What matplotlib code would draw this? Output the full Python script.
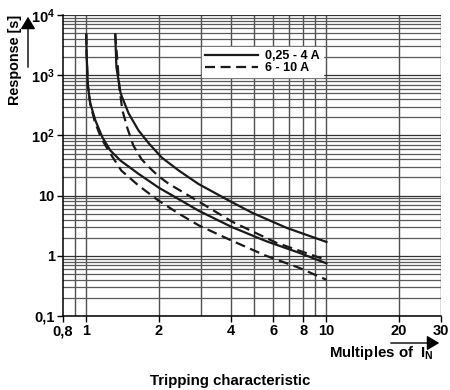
import numpy as np
import matplotlib
matplotlib.use("Agg")
import matplotlib.pyplot as plt
from matplotlib.patches import FancyArrowPatch
from matplotlib.ticker import FixedLocator, NullFormatter

plt.rcParams["font.family"] = ["Liberation Sans", "DejaVu Sans"]
plt.rcParams["font.weight"] = "bold"
plt.rcParams["mathtext.fontset"] = "custom"
plt.rcParams["mathtext.bf"] = "Liberation Sans:bold"
plt.rcParams["mathtext.rm"] = "Liberation Sans:bold"

# curves (multiples of I_N -> response time in s)
# 0,25 - 4 A (solid): lower and upper boundary
sa_x = [1.0, 1.003, 1.015, 1.039, 1.091, 1.167, 1.26, 1.39, 1.65, 2.0, 2.36, 2.94, 4.04, 5.61, 7.71, 10]
sa_y = [4800, 2330, 680, 341, 178, 93, 56, 38, 23, 13.6, 9.3, 5.6, 3.0, 1.75, 1.12, 0.75]
sb_x = [1.32, 1.335, 1.39, 1.50, 1.65, 1.82, 2.06, 2.43, 2.94, 3.93, 4.9, 6.8, 10]
sb_y = [4800, 1360, 500, 233, 121, 74, 43, 26, 15.5, 8.25, 5.2, 2.93, 1.7]
# 6 - 10 A (dashed): lower and upper boundary
da_x = [1.0, 1.003, 1.015, 1.039, 1.085, 1.15, 1.236, 1.40, 1.65, 2.0, 2.43, 2.94, 4.04, 5.61, 7.71, 10]
da_y = [4800, 2330, 680, 330, 170, 93, 56, 26, 14.7, 8.25, 5.0, 3.2, 1.78, 1.0, 0.63, 0.40]
db_x = [1.32, 1.35, 1.374, 1.414, 1.484, 1.57, 1.70, 1.87, 2.0, 2.2, 2.67, 3.03, 4.04, 6.18, 10]
db_y = [4800, 1580, 607, 261, 131, 68, 40, 27, 21, 15.8, 10, 7.4, 3.7, 1.65, 0.85]

x_ticks = [0.8, 1, 2, 4, 6, 8, 10, 20, 30]
x_labels = ["0,8", "1", "2", "4", "6", "8", "10", "20", "30"]
x_grid = [0.9, 1, 2, 3, 4, 5, 6, 7, 8, 9, 10, 20, 30]
y_ticks = [0.1, 1, 10, 100, 1000, 10000]
y_labels = ["0,1", "1", "10", r"$\mathbf{10^2}$", r"$\mathbf{10^3}$", r"$\mathbf{10^4}$"]

fig = plt.figure(figsize=(4.5, 3.9), dpi=100)
ax = fig.add_axes([63 / 450, 1 - 316 / 390, 378 / 450, 301 / 390])
ax.set_xscale("log")
ax.set_yscale("log")
ax.set_xlim(0.8, 30)
ax.set_ylim(0.1, 1e4)

# grid (drawn by hand: every minor value in each decade)
for v in x_grid:
    ax.axvline(v, color="#505050", lw=1.0, zorder=1)
for dec in [0.1, 1, 10, 100, 1000]:
    for k in range(1, 10):
        ax.axhline(dec * k, color="#333333" if k == 1 else "#5a5a5a", lw=0.9, zorder=1)
ax.axhline(1e4, color="#333333", lw=0.9, zorder=1)

dash = (0, (4.5, 2.5))
l1, = ax.plot(sa_x, sa_y, color="#1a1a1a", lw=1.6, zorder=3, label="0,25 - 4 A")
ax.plot(sb_x, sb_y, color="#1a1a1a", lw=1.6, zorder=3)
l2, = ax.plot(da_x, da_y, color="#1a1a1a", lw=1.6, ls=dash, zorder=3, label="6 - 10 A")
ax.plot(db_x, db_y, color="#1a1a1a", lw=1.6, ls=dash, zorder=3)

ax.xaxis.set_major_locator(FixedLocator(x_ticks))
ax.set_xticklabels(x_labels)
ax.xaxis.set_minor_locator(FixedLocator([]))
ax.xaxis.set_minor_formatter(NullFormatter())
ax.yaxis.set_major_locator(FixedLocator(y_ticks))
ax.set_yticklabels(y_labels)
ax.yaxis.set_minor_locator(FixedLocator([]))
ax.yaxis.set_minor_formatter(NullFormatter())
ax.tick_params(axis="both", length=4, width=1, color="black", labelsize=10.5, pad=2)

for s in ["top", "right"]:
    ax.spines[s].set_visible(False)
for s in ["left", "bottom"]:
    ax.spines[s].set_linewidth(1.1)
    ax.spines[s].set_color("black")

leg = ax.legend(handles=[l1, l2], loc="upper left", bbox_to_anchor=(0.368, 0.893),
                frameon=True, fancybox=False, framealpha=1, facecolor="white",
                edgecolor="white", fontsize=9, handlelength=4.2, handletextpad=0.6,
                labelspacing=0.0, borderpad=0.25, borderaxespad=0)
for t in leg.get_texts():
    t.set_fontweight("bold")

# axis captions with arrows
fig.text(15 / 450, 1 - 60 / 390, "Response [s]", rotation=90, ha="center", va="center",
         fontsize=10.4, fontweight="bold")
fig.add_artist(FancyArrowPatch((28 / 450, 1 - 70 / 390), (28 / 450, 1 - 14 / 390),
               transform=fig.transFigure, arrowstyle="-|>,head_length=5,head_width=3",
               color="black", lw=1, mutation_scale=1.5))
fig.text(381 / 450, 1 - 353 / 390, r"Multiples of  $\mathbf{I_N}$", ha="center", va="center",
         fontsize=10.8, fontweight="bold")
fig.add_artist(FancyArrowPatch((388 / 450, 1 - 343 / 390), (442 / 450, 1 - 343 / 390),
               transform=fig.transFigure, arrowstyle="-|>,head_length=5,head_width=3",
               color="black", lw=1, mutation_scale=1.5))
fig.text(230 / 450, 1 - 381 / 390, "Tripping characteristic", ha="center", va="center",
         fontsize=10.8, fontweight="bold")

fig.savefig("out.png", dpi=100)
